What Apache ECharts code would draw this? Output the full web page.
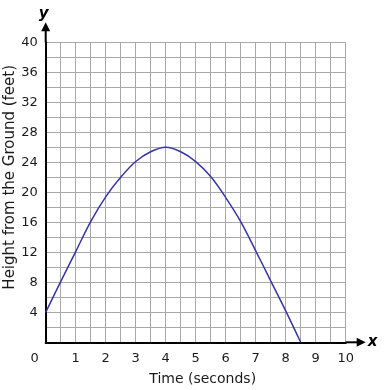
<!DOCTYPE html>
<html><head><meta charset="utf-8">
<script src="https://cdn.jsdelivr.net/npm/echarts@6/dist/echarts.min.js"></script>
<style>html,body{margin:0;padding:0;background:#fff}#c{width:390px;height:390px}</style>
</head><body><div id="c"></div>
<script>
const times = [0,0.5,1,1.5,2,2.5,3,3.5,4,4.5,5,5.5,6,6.5,7,7.5,8,8.5];
const heights = [4,8.1,12.1,16.1,19.4,22.0,24.1,25.4,26,25.4,24.1,22.1,19.3,16.1,12.2,8.2,4.2,0];
const xTicks = [0,1,2,3,4,5,6,7,8,9,10];
const yTicks = [4,8,12,16,20,24,28,32,36,40];
const xTitle = 'Time (seconds)';
const yTitle = 'Height from the Ground (feet)';

const FONT = 'Verdana, "DejaVu Sans", sans-serif';
const chart = echarts.init(document.getElementById('c'));
const option = {
  animation: false,
  grid: {left: 45.7, right: 44.3, top: 42.3, bottom: 47.7, containLabel: false, outerBoundsMode: 'none'},
  xAxis: {
    type: 'value', min: 0, max: 10, interval: 0.5,
    name: xTitle, nameLocation: 'middle', nameGap: 30,
    nameTextStyle: {fontFamily: FONT, fontSize: 14, color: '#1a1a1a', padding: [0, 0, 0, 14]},
    axisLine: {show: true, onZero: false, lineStyle: {color: '#000', width: 2}},
    axisTick: {show: false},
    axisLabel: {
      margin: 10, fontFamily: FONT, fontSize: 13, color: '#1a1a1a',
      showMaxLabel: true, showMinLabel: true,
      formatter: v => {
        if (!xTicks.includes(v)) return '';
        return v === 0 ? '{z|0}' : String(v);
      },
      rich: {z: {fontFamily: FONT, fontSize: 13, color: '#1a1a1a', padding: [0, 22, 0, 0]}}
    },
    splitLine: {show: true, lineStyle: {color: '#a8a8a8', width: 1}}
  },
  yAxis: {
    type: 'value', min: 0, max: 40, interval: 2,
    name: yTitle, nameLocation: 'middle', nameGap: 28, nameMoveOverlap: false,
    nameTextStyle: {fontFamily: FONT, fontSize: 15, color: '#1a1a1a', padding: [0, 0, 0, 30]},
    axisLine: {show: true, onZero: false, lineStyle: {color: '#000', width: 2}},
    axisTick: {show: false},
    axisLabel: {
      margin: 8, fontFamily: FONT, fontSize: 13, color: '#1a1a1a',
      formatter: v => yTicks.includes(v) ? String(v) : ''
    },
    splitLine: {show: true, lineStyle: {color: '#a8a8a8', width: 1}}
  },
  series: [{
    type: 'line', data: times.map((t, i) => [t, heights[i]]),
    smooth: 0.35, symbol: 'none', clip: false,
    lineStyle: {color: '#3535a5', width: 1.5}
  }]
};
chart.setOption(option);

const xe = chart.convertToPixel({gridIndex: 0}, [10, 0]);
const ye = chart.convertToPixel({gridIndex: 0}, [0, 40]);
chart.setOption({
  graphic: [
    {type: 'line', shape: {x1: xe[0], y1: xe[1], x2: xe[0] + 13, y2: xe[1]}, style: {stroke: '#000', lineWidth: 2}, z: 100},
    {type: 'polygon', shape: {points: [[xe[0] + 11, xe[1] - 4.5], [xe[0] + 20, xe[1]], [xe[0] + 11, xe[1] + 4.5]]}, style: {fill: '#000'}, z: 100},
    {type: 'line', shape: {x1: ye[0], y1: ye[1], x2: ye[0], y2: ye[1] - 13}, style: {stroke: '#000', lineWidth: 2}, z: 100},
    {type: 'polygon', shape: {points: [[ye[0] - 4.5, ye[1] - 11], [ye[0], ye[1] - 20], [ye[0] + 4.5, ye[1] - 11]]}, style: {fill: '#000'}, z: 100},
    {type: 'text', x: xe[0] + 27, y: xe[1], style: {text: 'x', font: 'italic bold 15px ' + FONT, fill: '#000', textAlign: 'center', textVerticalAlign: 'middle'}, z: 100},
    {type: 'text', x: ye[0] - 2, y: ye[1] - 28, style: {text: 'y', font: 'italic bold 15px ' + FONT, fill: '#000', textAlign: 'center', textVerticalAlign: 'middle'}, z: 100}
  ]
});
</script></body></html>
